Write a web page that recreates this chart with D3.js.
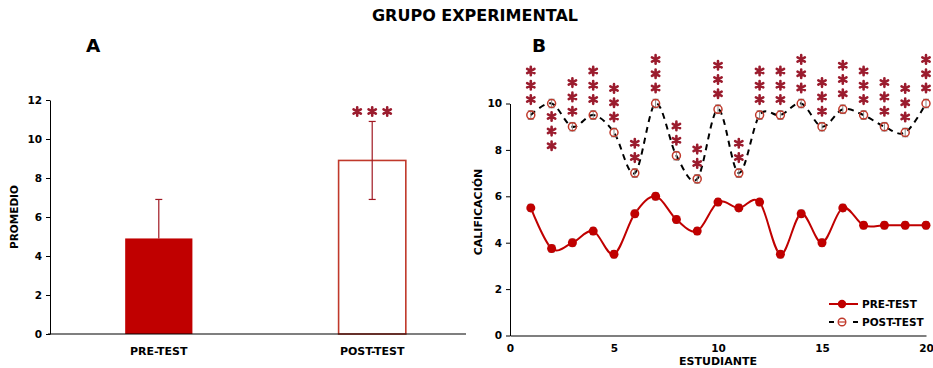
<!DOCTYPE html>
<html>
<head>
<meta charset="utf-8">
<script src="https://cdn.jsdelivr.net/npm/d3@7"></script>
<style>
  html, body { margin: 0; padding: 0; background: #fff; }
  svg { display: block; font-family: "DejaVu Sans", "Liberation Sans", Arial, sans-serif; }
</style>
</head>
<body>
<svg id="chart" width="933" height="368"></svg>
<script>
// ---- Panel A: group means ----
const groups = ["PRE-TEST", "POST-TEST"];
const groupMeans = [4.9, 8.9];
const groupSD = [2.0, 2.0];
const groupStars = [0, 3];
const yTicksA = [0, 2, 4, 6, 8, 10, 12];

// ---- Panel B: per-student scores ----
const students = d3.range(1, 21);
const preScores = [5.5, 3.75, 4, 4.5, 3.5, 5.25, 6, 5, 4.5, 5.75, 5.5, 5.75, 3.5, 5.25, 4, 5.5, 4.75, 4.75, 4.75, 4.75];
const postScores = [9.5, 10, 9, 9.5, 8.75, 7, 10, 7.75, 6.75, 9.75, 7, 9.5, 9.5, 10, 9, 9.75, 9.5, 9, 8.75, 10];
const preErr = [0.15, 0.15, 0.15, 0.15, 0.15, 0.15, 0.15, 0.15, 0.15, 0.15, 0.15, 0.15, 0.15, 0.15, 0.15, 0.15, 0.15, 0.15, 0.15, 0.15];
const postErr = [0.18, 0.18, 0.18, 0.18, 0.18, 0.18, 0.18, 0.18, 0.18, 0.18, 0.18, 0.18, 0.18, 0.18, 0.18, 0.18, 0.18, 0.18, 0.18, 0.18];
// significance asterisks per student: count and whether they sit above the point
const starCounts = [3, 3, 3, 3, 3, 2, 3, 2, 2, 3, 2, 3, 3, 3, 3, 3, 3, 3, 3, 3];
const starAbove = [true, false, true, true, true, true, true, true, true, true, true, true, true, true, true, true, true, true, true, true];
const xTicksB = [0, 5, 10, 15, 20];
const yTicksB = [0, 2, 4, 6, 8, 10];

const RED = "#c00000";
const POST_RED = "#c0392b";
const STAR = "#9b1c2e";
const GREY = "#8c8c8c";
const FONT = "'DejaVu Sans', 'Liberation Sans', Arial, sans-serif";

const svg = d3.select("#chart");
const star = d3.symbol(d3.symbolAsterisk, 50);

function drawStar(g, x, y) {
  g.append("path")
    .attr("d", star())
    .attr("transform", `translate(${x},${y})`)
    .attr("fill", "none")
    .attr("stroke", STAR)
    .attr("stroke-width", 2.6)
    .attr("stroke-linecap", "round");
}

function styleAxis(g) {
  g.attr("font-family", FONT).attr("font-size", null);
  g.selectAll("text")
    .attr("font-family", FONT)
    .attr("font-weight", "bold")
    .attr("font-size", 10.5)
    .attr("fill", "#000");
  g.selectAll("line").attr("stroke", "#000");
  g.select(".domain").attr("stroke", "#000");
}

// Title
svg.append("text")
  .attr("x", 475).attr("y", 21)
  .attr("text-anchor", "middle")
  .attr("font-weight", "bold").attr("font-size", 16)
  .text("GRUPO EXPERIMENTAL");

// Panel letters
svg.append("text").attr("x", 86).attr("y", 52)
  .attr("font-weight", "bold").attr("font-size", 18.5).text("A");
svg.append("text").attr("x", 532).attr("y", 52)
  .attr("font-weight", "bold").attr("font-size", 18.5).text("B");

// ================= Panel A =================
const gA = svg.append("g");
const xA = d3.scaleBand().domain(groups).range([65, 466])
  .paddingInner(0.685).paddingOuter(0.282);
const yA = d3.scaleLinear().domain([0, 12]).range([334, 100]);

// y axis
gA.append("g")
  .attr("transform", "translate(50,0)")
  .call(d3.axisLeft(yA).tickValues(yTicksA).tickSize(4).tickSizeOuter(0).tickPadding(4))
  .call(styleAxis);

// bars
gA.selectAll("rect.bar")
  .data(groups)
  .join("rect")
  .attr("class", "bar")
  .attr("x", d => xA(d))
  .attr("width", xA.bandwidth())
  .attr("y", (d, i) => yA(groupMeans[i]))
  .attr("height", (d, i) => yA(0) - yA(groupMeans[i]))
  .attr("fill", (d, i) => i === 0 ? RED : "none")
  .attr("stroke", (d, i) => i === 0 ? "none" : POST_RED)
  .attr("stroke-width", 1.6);

// error bars: filled bar shows only the upper whisker
groups.forEach((grp, i) => {
  const cx = xA(grp) + xA.bandwidth() / 2;
  const hi = groupMeans[i] + groupSD[i];
  const lo = i === 0 ? groupMeans[i] : groupMeans[i] - groupSD[i];
  gA.append("line")
    .attr("x1", cx).attr("x2", cx)
    .attr("y1", yA(lo)).attr("y2", yA(hi))
    .attr("stroke", "#a01822").attr("stroke-width", 1.2);
  gA.append("line")
    .attr("x1", cx - 3.5).attr("x2", cx + 3.5)
    .attr("y1", yA(hi)).attr("y2", yA(hi))
    .attr("stroke", "#a01822").attr("stroke-width", 1.2);
  if (i === 1) {
    gA.append("line")
      .attr("x1", cx - 3.5).attr("x2", cx + 3.5)
      .attr("y1", yA(lo)).attr("y2", yA(lo))
      .attr("stroke", "#a01822").attr("stroke-width", 1.2);
  }
});

// x baseline
gA.append("line")
  .attr("x1", 48).attr("x2", 466)
  .attr("y1", yA(0)).attr("y2", yA(0))
  .attr("stroke", "#000").attr("stroke-width", 1.2);

// category labels
gA.selectAll("text.cat")
  .data(groups)
  .join("text")
  .attr("class", "cat")
  .attr("x", d => xA(d) + xA.bandwidth() / 2)
  .attr("y", 355)
  .attr("text-anchor", "middle")
  .attr("font-weight", "bold").attr("font-size", 11)
  .text(d => d);

// significance stars over the bars
groups.forEach((grp, i) => {
  const cx = xA(grp) + xA.bandwidth() / 2;
  for (let k = 0; k < groupStars[i]; k++) {
    drawStar(gA, cx + (k - (groupStars[i] - 1) / 2) * 15, yA(groupMeans[i] + groupSD[i]) - 10);
  }
});

// y label
gA.append("text")
  .attr("transform", "translate(18,217) rotate(-90)")
  .attr("text-anchor", "middle")
  .attr("font-weight", "bold").attr("font-size", 10.5)
  .text("PROMEDIO");

// ================= Panel B =================
const gB = svg.append("g");
const xB = d3.scaleLinear().domain([0, 20]).range([510, 926]);
const yB = d3.scaleLinear().domain([0, 10]).range([335.5, 103.5]);

gB.append("g")
  .attr("transform", "translate(510,0)")
  .call(d3.axisLeft(yB).tickValues(yTicksB).tickSize(4).tickSizeOuter(0).tickPadding(4))
  .call(styleAxis);

gB.append("g")
  .attr("transform", `translate(0,${yB(0)})`)
  .call(d3.axisBottom(xB).tickValues(xTicksB).tickSize(0).tickSizeOuter(0).tickPadding(9))
  .call(styleAxis)
  .call(g => g.select(".domain").attr("stroke-width", 1.2));

// axis titles
gB.append("text")
  .attr("transform", "translate(482,212) rotate(-90)")
  .attr("text-anchor", "middle")
  .attr("font-weight", "bold").attr("font-size", 11)
  .text("CALIFICACIÓN");
gB.append("text")
  .attr("x", 718).attr("y", 365)
  .attr("text-anchor", "middle")
  .attr("font-weight", "bold").attr("font-size", 11)
  .text("ESTUDIANTE");

const smooth = d3.curveCardinal.tension(0);

// post-test dashed line
gB.append("path")
  .datum(students)
  .attr("d", d3.line().x(d => xB(d)).y((d, i) => yB(postScores[i])).curve(smooth))
  .attr("fill", "none")
  .attr("stroke", "#000")
  .attr("stroke-width", 2)
  .attr("stroke-dasharray", "6,5");

// pre-test smooth line
gB.append("path")
  .datum(students)
  .attr("d", d3.line().x(d => xB(d)).y((d, i) => yB(preScores[i])).curve(smooth))
  .attr("fill", "none")
  .attr("stroke", RED)
  .attr("stroke-width", 2);

// error bars
function errBars(values, errs) {
  students.forEach((s, i) => {
    const x = xB(s);
    const top = yB(values[i] + errs[i]);
    const bot = yB(values[i] - errs[i]);
    gB.append("line").attr("x1", x).attr("x2", x).attr("y1", top).attr("y2", bot)
      .attr("stroke", GREY).attr("stroke-width", 1);
    [top, bot].forEach(y => gB.append("line")
      .attr("x1", x - 3).attr("x2", x + 3).attr("y1", y).attr("y2", y)
      .attr("stroke", GREY).attr("stroke-width", 1.2));
  });
}
errBars(preScores, preErr);
errBars(postScores, postErr);

// markers
gB.selectAll("circle.pre")
  .data(students)
  .join("circle")
  .attr("class", "pre")
  .attr("cx", d => xB(d))
  .attr("cy", (d, i) => yB(preScores[i]))
  .attr("r", 4.5)
  .attr("fill", RED);

gB.selectAll("circle.post")
  .data(students)
  .join("circle")
  .attr("class", "post")
  .attr("cx", d => xB(d))
  .attr("cy", (d, i) => yB(postScores[i]))
  .attr("r", 4)
  .attr("fill", "none")
  .attr("stroke", POST_RED)
  .attr("stroke-width", 1.5);

// asterisks per student
students.forEach((s, i) => {
  const x = xB(s);
  const base = yB(postScores[i]);
  for (let k = 0; k < starCounts[i]; k++) {
    const y = starAbove[i] ? base - 15.5 - k * 14.3 : base + 13 + k * 14.6;
    drawStar(gB, x, y);
  }
});

// legend
const lg = gB.append("g");
lg.append("line").attr("x1", 829).attr("x2", 858).attr("y1", 304).attr("y2", 304)
  .attr("stroke", RED).attr("stroke-width", 2);
lg.append("circle").attr("cx", 842).attr("cy", 304).attr("r", 4.2).attr("fill", RED);
lg.append("text").attr("x", 862).attr("y", 308)
  .attr("font-weight", "bold").attr("font-size", 10.5).text("PRE-TEST");
lg.append("line").attr("x1", 829).attr("x2", 858).attr("y1", 322).attr("y2", 322)
  .attr("stroke", "#000").attr("stroke-width", 2).attr("stroke-dasharray", "5,19");
lg.append("circle").attr("cx", 842).attr("cy", 322).attr("r", 3.8)
  .attr("fill", "#fff").attr("stroke", POST_RED).attr("stroke-width", 1.4);
lg.append("line").attr("x1", 839).attr("x2", 845).attr("y1", 322).attr("y2", 322)
  .attr("stroke", POST_RED).attr("stroke-width", 1.2);
lg.append("text").attr("x", 862).attr("y", 326)
  .attr("font-weight", "bold").attr("font-size", 10.5).text("POST-TEST");
</script>
</body>
</html>
